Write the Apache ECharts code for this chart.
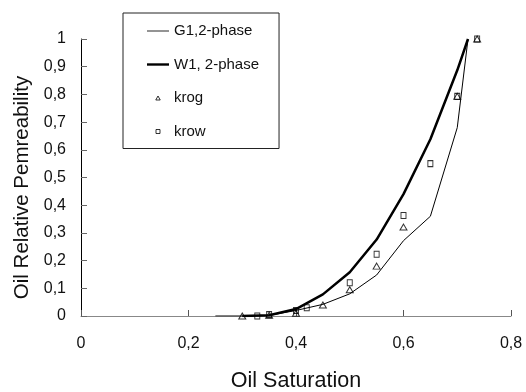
<!DOCTYPE html>
<html>
<head>
<meta charset="utf-8">
<script src="https://cdn.jsdelivr.net/npm/echarts@6/dist/echarts.min.js"></script>
<style>html,body{margin:0;padding:0;background:#fff}#c{width:526px;height:392px}</style>
</head>
<body>
<div id="c"></div>
<script>
// Data
const g1Line = [[0.25,0],[0.30,0],[0.35,0.002],[0.40,0.02],[0.45,0.042],[0.50,0.08],[0.55,0.148],[0.60,0.272],[0.65,0.36],[0.70,0.68],[0.72,1.0]];
const w1Line = [[0.30,0],[0.35,0.003],[0.40,0.025],[0.45,0.078],[0.50,0.158],[0.55,0.276],[0.60,0.44],[0.65,0.638],[0.70,0.887],[0.72,1.0]];
const krog = [[0.30,0],[0.35,0.003],[0.40,0.01],[0.45,0.04],[0.50,0.095],[0.55,0.18],[0.60,0.321],[0.70,0.793],[0.737,1.0]];
const krow = [[0.328,0],[0.35,0.005],[0.40,0.02],[0.42,0.03],[0.50,0.12],[0.55,0.223],[0.60,0.363],[0.65,0.55],[0.70,0.793],[0.737,1.0]];
const seriesNames = ['G1,2-phase','W1, 2-phase','krog','krow'];
const xTitle = 'Oil Saturation';
const yTitle = 'Oil Relative Pemreability';

const fmt = v => String(+v.toFixed(1)).replace('.', ',');
const font = 'Liberation Sans, Arial, sans-serif';

const chart = echarts.init(document.getElementById('c'), null, {renderer:'canvas'});
chart.setOption({
  animation:false,
  backgroundColor:'#fff',
  grid:{left:81, right:15, top:39, bottom:76, containLabel:false, outerBoundsMode:'none'},
  legend:{
    orient:'vertical', left:123, top:13,
    data:[
      {name:seriesNames[0], icon:'path://M0,0 L26,0 L26,1 L0,1 Z', itemStyle:{color:'#000', borderWidth:0}},
      {name:seriesNames[1], icon:'path://M0,0 L22,0 L22,2.4 L0,2.4 Z', itemStyle:{color:'#000', borderWidth:0}},
      {name:seriesNames[2], icon:'path://M5,0 L10,9 L0,9 Z', itemStyle:{color:'#fff', borderColor:'#000', borderWidth:1}},
      {name:seriesNames[3], icon:'path://M0,0 L9,0 L9,9 L0,9 Z', itemStyle:{color:'#fff', borderColor:'#000', borderWidth:1}}
    ],
    symbolKeepAspect:true,
    itemWidth:22, itemHeight:4, itemGap:17.5,
    padding:[10,20,9,24],
    borderColor:'#222', borderWidth:1,
    textStyle:{fontFamily:font, fontSize:15, color:'#111', lineHeight:16},
    selectedMode:false
  },
  xAxis:{
    type:'value', min:0, max:0.8, interval:0.2,
    name:xTitle, nameLocation:'middle', nameGap:54,
    nameTextStyle:{fontFamily:font, fontSize:21.5, color:'#111'},
    axisLine:{show:true, lineStyle:{color:'#888', width:1}},
    axisTick:{show:true, inside:true, length:6, lineStyle:{color:'#555'}},
    axisLabel:{fontFamily:font, fontSize:16, color:'#111', margin:20, formatter:fmt},
    splitLine:{show:false}
  },
  yAxis:{
    type:'value', min:0, max:1, interval:0.1,
    name:yTitle, nameLocation:'middle', nameGap:47,
    nameTextStyle:{fontFamily:font, fontSize:20.5, color:'#111', padding:[0,20,0,0]},
    axisLine:{show:true, lineStyle:{color:'#000', width:1}},
    axisTick:{show:true, inside:true, length:6, lineStyle:{color:'#666'}},
    axisLabel:{fontFamily:font, fontSize:16, color:'#111', margin:15, formatter:fmt},
    splitLine:{show:false}
  },
  series:[
    {name:seriesNames[0], type:'line', data:g1Line, symbol:'none', z:3,
     lineStyle:{color:'#000', width:1}, itemStyle:{color:'#000'}},
    {name:seriesNames[1], type:'line', data:w1Line, symbol:'none', z:3,
     lineStyle:{color:'#000', width:2.5}, itemStyle:{color:'#000'}},
    {name:seriesNames[2], type:'scatter', data:krog, symbol:'triangle', symbolSize:[7,6], z:4,
     itemStyle:{color:'rgba(0,0,0,0)', borderColor:'#000', borderWidth:1}},
    {name:seriesNames[3], type:'scatter', data:krow, symbol:'rect', symbolSize:[5,6], z:4,
     itemStyle:{color:'rgba(0,0,0,0)', borderColor:'#000', borderWidth:1}}
  ]
});
</script>
</body>
</html>
